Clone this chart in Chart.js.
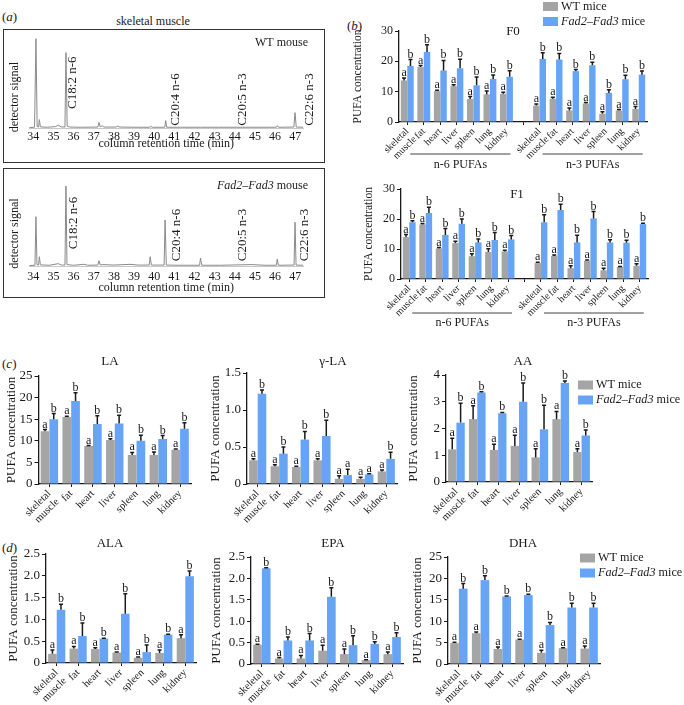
<!DOCTYPE html>
<html>
<head>
<meta charset="utf-8">
<script src="https://cdn.jsdelivr.net/npm/chart.js@4.4.1/dist/chart.umd.min.js"></script>
<style>
  body { margin: 0; background: #fff; }
  #page { position: relative; width: 684px; height: 705px; overflow: hidden;
          font-family: 'Liberation Serif', 'Times New Roman', serif; color: #1a1a1a; }
  #page canvas { position: absolute; }
  .lbl { position: absolute; font-size: 13px; line-height: 1; white-space: nowrap; transform: translateY(-50%); }
  .box { position: absolute; border: 1.5px solid #333; box-sizing: border-box; }
</style>
</head>
<body>
<div id="page">
  <div class="lbl" style="left:2px;top:16px">(<i>a</i>)</div>
  <div class="lbl" style="left:153px;top:21px;transform:translate(-50%,-50%);font-size:12px">skeletal muscle</div>
  <div class="box" style="left:3px;top:29px;width:322px;height:134px"></div>
  <div class="box" style="left:3px;top:168px;width:322px;height:130px"></div>
  <div class="lbl" style="left:347px;top:25px">(<i>b</i>)</div>
  <div class="lbl" style="left:2px;top:363px">(<i>c</i>)</div>
  <div class="lbl" style="left:2px;top:547px">(<i>d</i>)</div>
</div>
<script>
// ---- data ----
const tissues = ['skeletal muscle', 'fat', 'heart', 'liver', 'spleen', 'lung', 'kidney'];
const seriesNames = ['WT mice', 'Fad2–Fad3 mice'];
const groupNames = ['n-6 PUFAs', 'n-3 PUFAs'];

// (a) chromatograms, retention time (min) vs detector signal
const retentionTicks = [34, 35, 36, 37, 38, 39, 40, 41, 42, 43, 44, 45, 46, 47];
const wtTime = [33.8, 34.06, 34.13, 34.19, 34.26, 34.3, 34.35, 34.7, 35.1, 35.24, 35.38, 35.57, 35.62, 35.68,
  35.8, 36.4, 37.2, 37.26, 37.32, 37.42, 37.5, 38.1, 38.17, 38.3, 39.0, 39.78, 39.83, 39.9, 40.52, 40.57,
  40.62, 41.3, 42.3, 43.2, 44.1, 45.0, 46.06, 46.11, 46.16, 46.93, 46.99, 47.05, 47.4];
const wtSignal = [0.5, 0.8, 96, 1.5, 1.0, 9, 1.2, 0.8, 1.5, 3, 1.2, 1.0, 81, 2,
  1.0, 0.8, 1.0, 6, 1.2, 2.5, 1.0, 1.0, 1.8, 1.0, 0.8, 0.8, 1.8, 0.8, 0.8, 8,
  0.8, 0.8, 0.8, 0.8, 0.8, 0.8, 0.8, 2.5, 0.8, 1.0, 16.5, 1.0, 0.8];
const tgTime = [33.8, 34.08, 34.13, 34.18, 34.26, 34.3, 34.35, 34.8, 35.24, 35.4, 35.57, 35.62, 35.67, 36.0,
  36.5, 36.7, 37.2, 37.26, 37.32, 37.45, 38.0, 38.8, 39.2, 39.75, 39.8, 39.86, 40.49, 40.54, 40.6, 41.2,
  42.25, 42.3, 42.36, 43.3, 44.85, 45.5, 46.06, 46.11, 46.16, 46.94, 46.99, 47.04, 47.4];
const tgSignal = [0.5, 0.8, 53, 1.5, 1.0, 10, 1.2, 0.8, 2.5, 1.0, 1.0, 86, 1.5, 0.8,
  1.8, 0.8, 1.0, 5.7, 1.2, 1.5, 1.0, 1.8, 1.0, 1.0, 10, 1.0, 1.0, 49.5, 1.0, 0.8,
  0.8, 8.6, 0.8, 0.8, 1.5, 0.8, 0.8, 7.5, 0.8, 1.0, 47, 1.0, 0.8];
const peakNames = ['C18:2 n-6', 'C20:4 n-6', 'C20:5 n-3', 'C22:6 n-3'];

// (b) total PUFAs, F0 and F1
const fTicks = ['0', '10', '20', '30'];
const f0N6Wt = [13.7, 18.1, 10.2, 11.8, 7.6, 9.1, 9.3];
const f0N6WtErr = [0.8, 0.5, 0.3, 0.5, 0.8, 1.1, 0.5];
const f0N6Tg = [18.5, 23.1, 17.0, 17.7, 12.1, 14.2, 14.9];
const f0N6TgErr = [2.1, 2.4, 3.3, 3.0, 2.7, 1.3, 2.0];
const f0N3Wt = [5.4, 7.7, 3.8, 6.1, 2.7, 3.8, 4.3];
const f0N3WtErr = [0.5, 0.5, 0.8, 0.3, 0.7, 0.3, 0.8];
const f0N3Tg = [20.8, 20.6, 16.8, 18.7, 9.6, 14.1, 15.6];
const f0N3TgErr = [2.0, 2.0, 0.5, 1.0, 1.0, 1.3, 1.2];
const f1N6Wt = [14.0, 18.2, 10.2, 12.0, 7.6, 9.0, 9.2];
const f1N6WtErr = [0.8, 0.3, 0.3, 0.6, 0.8, 1.1, 0.4];
const f1N6Tg = [18.9, 22.0, 14.7, 18.4, 12.2, 13.0, 13.2];
const f1N6TgErr = [0.5, 1.9, 2.1, 1.6, 1.1, 2.5, 1.3];
const f1N3Wt = [5.3, 7.7, 3.6, 6.1, 2.9, 4.0, 4.4];
const f1N3WtErr = [0.3, 0.3, 0.8, 0.2, 0.7, 0.2, 0.7];
const f1N3Tg = [18.9, 23.0, 12.2, 20.2, 12.2, 12.1, 18.3];
const f1N3TgErr = [2.5, 1.9, 2.4, 2.3, 0.9, 0.8, 0.3];

// (c) n-6 fatty acids
const laTicks = ['0', '5', '10', '15', '20', '25'];
const laWt = [12.2, 15.5, 8.8, 10.2, 6.7, 6.7, 7.9];
const laWtErr = [0.4, 0.2, 0.1, 0.3, 0.6, 0.7, 0.2];
const laTg = [15.0, 19.2, 13.9, 14.0, 10.0, 10.4, 12.8];
const laTgErr = [1.3, 1.9, 1.9, 1.9, 1.3, 0.8, 1.4];
const glaTicks = ['0', '0.5', '1.0', '1.5'];
const glaWt = [0.32, 0.24, 0.23, 0.32, 0.07, 0.07, 0.17];
const glaWtErr = [0.02, 0.02, 0.01, 0.02, 0.04, 0.02, 0.02];
const glaTg = [1.22, 0.41, 0.60, 0.65, 0.12, 0.13, 0.34];
const glaTgErr = [0.05, 0.09, 0.11, 0.21, 0.08, 0.01, 0.09];
const aaTicks = ['0', '1', '2', '3', '4'];
const aaWt = [1.22, 2.35, 1.2, 1.35, 0.92, 2.35, 1.12];
const aaWtErr = [0.42, 0.5, 0.21, 0.4, 0.32, 0.29, 0.12];
const aaTg = [2.22, 3.35, 2.57, 3.0, 1.97, 3.7, 1.74];
const aaTgErr = [0.72, 0.02, 0.03, 0.7, 0.9, 0.08, 0.2];

// (d) n-3 fatty acids
const alaTicks = ['0', '0.5', '1.0', '1.5', '2.0', '2.5'];
const alaWt = [0.21, 0.33, 0.32, 0.24, 0.12, 0.23, 0.57];
const alaWtErr = [0.09, 0.05, 0.03, 0.01, 0.02, 0.07, 0.08];
const alaTg = [1.22, 0.62, 0.56, 1.13, 0.25, 0.65, 1.99];
const alaTgErr = [0.13, 0.30, 0.01, 0.46, 0.16, 0.01, 0.12];
const epaTicks = ['0', '0.5', '1.0', '1.5', '2.0', '2.5'];
const epaWt = [0.45, 0.13, 0.13, 0.31, 0.23, 0.09, 0.23];
const epaWtErr = [0.01, 0.02, 0.07, 0.13, 0.12, 0.01, 0.05];
const epaTg = [2.24, 0.55, 0.55, 1.57, 0.44, 0.47, 0.63];
const epaTgErr = [0.01, 0.08, 0.16, 0.21, 0.22, 0.05, 0.10];
const dhaTicks = ['0', '5', '10', '15', '20', '25'];
const dhaWt = [4.9, 7.2, 3.5, 5.7, 2.6, 3.7, 3.6];
const dhaWtErr = [0.2, 0.3, 0.5, 0.1, 0.6, 0.1, 0.6];
const dhaTg = [17.6, 19.6, 15.8, 16.1, 9.1, 13.2, 13.2];
const dhaTgErr = [1.2, 1.0, 0.1, 0.2, 0.6, 1.0, 1.0];

const sigA = ['a', 'a', 'a', 'a', 'a', 'a', 'a'];
const sigB = ['b', 'b', 'b', 'b', 'b', 'b', 'b'];
const glaTgSig = ['b', 'b', 'b', 'b', 'a', 'a', 'b'];

// ---- drawing ----
const SERIF = "'Liberation Serif', 'Times New Roman', serif";
const GRAY = '#a5a5a5', BLUE = '#68a4f6', INK = '#1a1a1a';
const extras = {};

function font(size, italic) { return (italic ? 'italic ' : '') + size + 'px ' + SERIF; }

function splitItalic(label) {
  return label.split(/(Fad2–Fad3)/).filter(s => s).map(s => ({ t: s, italic: s === 'Fad2–Fad3' }));
}

function richText(ctx, parts, x, y, align, size) {
  let w = 0;
  parts.forEach(p => { ctx.font = font(size, p.italic); w += ctx.measureText(p.t).width; });
  let cx = align === 'right' ? x - w : align === 'center' ? x - w / 2 : x;
  ctx.textAlign = 'left';
  parts.forEach(p => {
    ctx.font = font(size, p.italic);
    ctx.fillText(p.t, cx, y);
    cx += ctx.measureText(p.t).width;
  });
}

function vText(ctx, text, x, y, size) {
  ctx.save();
  ctx.translate(x, y);
  ctx.rotate(-Math.PI / 2);
  ctx.font = font(size);
  ctx.textAlign = 'center';
  ctx.textBaseline = 'middle';
  ctx.fillText(text, 0, 0);
  ctx.restore();
}

const annotate = {
  id: 'annotate',
  afterDraw(chart) {
    const ex = extras[chart.canvas.id];
    if (!ex) return;
    const ctx = chart.ctx, xs = chart.scales.x, ys = chart.scales.y;
    ctx.save();
    ctx.fillStyle = INK;
    ctx.strokeStyle = INK;

    if (ex.errors) {
      chart.data.datasets.forEach((ds, di) => {
        chart.getDatasetMeta(di).data.forEach((bar, i) => {
          const v = ds.data[i];
          if (v == null) return;
          const yTop = ys.getPixelForValue(v + ex.errors[di][i]);
          ctx.lineWidth = 1.5;
          ctx.beginPath();
          ctx.moveTo(bar.x, bar.y);
          ctx.lineTo(bar.x, yTop);
          ctx.moveTo(bar.x - 2, yTop);
          ctx.lineTo(bar.x + 2, yTop);
          ctx.stroke();
          ctx.font = font(12);
          ctx.textAlign = 'center';
          ctx.textBaseline = 'alphabetic';
          ctx.fillText(ex.letters[di][i], bar.x, yTop - 2);
        });
      });
    }

    ctx.textBaseline = 'middle';
    if (ex.title) {
      ctx.font = font(13);
      ctx.textAlign = 'center';
      ctx.fillText(ex.title.text, ex.title.x, ex.title.y);
    }

    if (ex.groups) {
      ex.groups.forEach(g => {
        const x0 = xs.getPixelForValue(g.from) + 3, x1 = xs.getPixelForValue(g.to) + 4;
        ctx.lineWidth = 1.2;
        ctx.strokeStyle = '#444';
        ctx.beginPath();
        ctx.moveTo(x0, ex.lineY);
        ctx.lineTo(x1, ex.lineY);
        ctx.stroke();
        ctx.font = font(12);
        ctx.textAlign = 'center';
        ctx.fillText(g.text, (x0 + x1) / 2, ex.textY);
      });
    }

    if (ex.legend) {
      const L = ex.legend;
      chart.data.datasets.forEach((ds, di) => {
        const yc = L.y + di * L.gap;
        ctx.fillStyle = ds.backgroundColor;
        ctx.fillRect(L.x, yc - 4.5, 15, 9);
        ctx.fillStyle = INK;
        richText(ctx, splitItalic(ds.label), L.x + 18, yc, 'left', 12.2);
      });
    }

    if (ex.tag) {
      richText(ctx, ex.tag.parts, ex.tag.x, ex.tag.y, 'right', 12);
    }
    if (ex.yTitle) {
      vText(ctx, ex.yTitle.text, ex.yTitle.x, ex.yTitle.y, 12);
    }
    if (ex.peaks) {
      ex.peaks.forEach(p => vText(ctx, p.text, xs.getPixelForValue(p.t), p.y, 13));
    }
    ctx.restore();
  }
};

function place(id, box) {
  const c = document.createElement('canvas');
  c.id = id;
  c.width = box[2];
  c.height = box[3];
  c.style.left = box[0] + 'px';
  c.style.top = box[1] + 'px';
  document.getElementById('page').appendChild(c);
  return c;
}

// box = [left, top, width, height] of canvas, plot = [left, right, top, bottom] of chart area (page px)
function barChart(id, box, plot, o) {
  const canvas = place(id, box);
  extras[id] = o.extras;
  const yW = plot[0] - box[0];
  const xH = box[1] + box[3] - plot[3];
  return new Chart(canvas, {
    type: 'bar',
    data: {
      labels: o.labels,
      datasets: [
        { label: seriesNames[0], data: o.wt, backgroundColor: GRAY, categoryPercentage: o.cat, barPercentage: 1 },
        { label: seriesNames[1], data: o.tg, backgroundColor: BLUE, categoryPercentage: o.cat, barPercentage: 1 }
      ]
    },
    options: {
      responsive: false,
      animation: false,
      layout: { padding: { top: plot[2] - box[1], right: box[0] + box[2] - plot[1], left: 0, bottom: 0 } },
      plugins: { legend: { display: false }, tooltip: { enabled: false } },
      scales: {
        x: {
          afterFit: s => { s.height = xH; },
          ticks: { autoSkip: false, maxRotation: 45, minRotation: 45, padding: 1, color: INK,
                   font: { family: SERIF, size: o.catSize, lineHeight: 1.1 } },
          grid: { drawOnChartArea: false, drawTicks: true, tickLength: 3, color: INK, offset: false },
          border: { color: INK, width: 1.3 }
        },
        y: {
          min: 0,
          max: parseFloat(o.ticks[o.ticks.length - 1]),
          afterFit: s => { s.width = yW; },
          afterBuildTicks: s => { s.ticks = o.ticks.map(t => ({ value: parseFloat(t) })); },
          ticks: { callback: (v, i) => o.ticks[i], padding: 2, color: INK, font: { family: SERIF, size: o.tickSize } },
          grid: { drawOnChartArea: false, drawTicks: true, tickLength: 4, color: INK },
          border: { color: INK, width: 1.3 },
          title: { display: true, text: 'PUFA concentration', color: INK,
                   font: { family: SERIF, size: o.titleSize }, padding: { top: o.titlePad, bottom: 0 } }
        }
      }
    },
    plugins: [annotate]
  });
}

function chromChart(id, box, plot, times, signal, o) {
  const canvas = place(id, box);
  extras[id] = o.extras;
  const yW = plot[0] - box[0];
  const xH = box[1] + box[3] - plot[3];
  return new Chart(canvas, {
    type: 'line',
    data: {
      datasets: [{
        data: times.map((t, i) => ({ x: t, y: signal[i] })),
        borderColor: '#8a8a8a', borderWidth: 1, pointRadius: 0, tension: 0
      }]
    },
    options: {
      responsive: false,
      animation: false,
      layout: { padding: { top: plot[2] - box[1], right: box[0] + box[2] - plot[1], left: 0, bottom: 0 } },
      plugins: { legend: { display: false }, tooltip: { enabled: false } },
      scales: {
        x: {
          type: 'linear', min: 33.8, max: 47.4,
          afterFit: s => { s.height = xH; },
          afterBuildTicks: s => { s.ticks = retentionTicks.map(v => ({ value: v })); },
          ticks: { padding: o.tickPad, color: INK, font: { family: SERIF, size: 12, lineHeight: 1 } },
          grid: { display: false, drawTicks: false },
          border: { display: true, color: '#c8c8c8', width: 1 },
          title: { display: true, text: 'column retention time (min)', color: INK,
                   font: { family: SERIF, size: 12 }, padding: { top: 0, bottom: o.titlePad } }
        },
        y: {
          min: 0, max: 100,
          afterFit: s => { s.width = yW; },
          ticks: { display: false }, grid: { display: false, drawTicks: false }, border: { display: false }
        }
      }
    },
    plugins: [annotate]
  });
}

// (a)
chromChart('wtTrace', [4, 30, 320, 132], [29.3, 303.3, 35, 128], wtTime, wtSignal, {
  tickPad: 2.7, titlePad: 10.8,
  extras: {
    tag: { parts: [{ t: 'WT mouse' }], x: 304, y: 13 },
    yTitle: { text: 'detector signal', x: 11, y: 67 },
    peaks: [{ text: peakNames[0], t: 35.95, y: 52.7 }, { text: peakNames[1], t: 41.07, y: 69.5 },
            { text: peakNames[2], t: 44.4, y: 69.5 }, { text: peakNames[3], t: 47.7, y: 69.5 }]
  }
});
chromChart('tgTrace', [4, 169, 320, 128], [29.3, 303.3, 173, 266], tgTime, tgSignal, {
  tickPad: 4.7, titlePad: 1.5,
  extras: {
    tag: { parts: [{ t: 'Fad2–Fad3', italic: true }, { t: ' mouse' }], x: 304, y: 17 },
    yTitle: { text: 'detector signal', x: 11, y: 64.5 },
    peaks: [{ text: peakNames[0], t: 35.98, y: 54 }, { text: peakNames[1], t: 41.12, y: 66 },
            { text: peakNames[2], t: 44.4, y: 66 }, { text: peakNames[3], t: 47.47, y: 66 }]
  }
});

// (b)
const wideLabels = [...tissues, '', ...tissues].map(t => t.split(' '));
const wideA = [...sigA, '', ...sigA];
const wideB = [...sigB, '', ...sigB];
const fGroups = [{ from: 0, to: 6, text: groupNames[0] }, { from: 8, to: 14, text: groupNames[1] }];

barChart('f0', [345, 0, 339, 172], [399, 647, 31, 122], {
  labels: wideLabels, cat: 0.78, catSize: 10, tickSize: 12, titleSize: 11.5, titlePad: 5.6, ticks: fTicks,
  wt: [...f0N6Wt, null, ...f0N3Wt], tg: [...f0N6Tg, null, ...f0N3Tg],
  extras: {
    errors: [[...f0N6WtErr, 0, ...f0N3WtErr], [...f0N6TgErr, 0, ...f0N3TgErr]],
    letters: [wideA, wideB],
    title: { text: 'F0', x: 168, y: 32 },
    groups: fGroups, lineY: 154, textY: 165,
    legend: { x: 198, y: 6.5, gap: 15 }
  }
});
barChart('f1', [345, 172, 339, 160], [401, 648, 189, 279], {
  labels: wideLabels, cat: 0.78, catSize: 10, tickSize: 12, titleSize: 11.5, titlePad: 17.1, ticks: fTicks,
  wt: [...f1N6Wt, null, ...f1N3Wt], tg: [...f1N6Tg, null, ...f1N3Tg],
  extras: {
    errors: [[...f1N6WtErr, 0, ...f1N3WtErr], [...f1N6TgErr, 0, ...f1N3TgErr]],
    letters: [wideA, wideB],
    title: { text: 'F1', x: 172, y: 23 },
    groups: fGroups, lineY: 141, textY: 151
  }
});

// (c) and (d)
const shortLabels = tissues.map(t => t.split(' '));
function panel(id, box, plot, titlePad, ticks, wt, wtErr, tg, tgErr, tgSig, title, legend) {
  barChart(id, box, plot, {
    labels: shortLabels, cat: 0.8, catSize: 10.5, tickSize: 13, titleSize: 13, titlePad: titlePad, ticks: ticks,
    wt: wt, tg: tg,
    extras: { errors: [wtErr, tgErr], letters: [sigA, tgSig], title: title, legend: legend }
  });
}
panel('la', [0, 340, 200, 190], [38.5, 191, 376, 484], 3.9, laTicks, laWt, laWtErr, laTg, laTgErr, sigB,
      { text: 'LA', x: 110, y: 22 });
panel('gla', [200, 340, 200, 190], [247, 397, 373, 484], 8.2, glaTicks, glaWt, glaWtErr, glaTg, glaTgErr, glaTgSig,
      { text: 'γ-LA', x: 133, y: 22 });
panel('aa', [400, 340, 284, 190], [446, 592, 375, 482], 6.2, aaTicks, aaWt, aaWtErr, aaTg, aaTgErr, sigB,
      { text: 'AA', x: 123, y: 22 }, { x: 178, y: 45, gap: 15 });
panel('ala', [0, 522, 200, 183], [46, 196, 554, 663], 6.2, alaTicks, alaWt, alaWtErr, alaTg, alaTgErr, sigB,
      { text: 'ALA', x: 110, y: 22 });
panel('epa', [200, 522, 210, 183], [251, 403, 557, 664], 9.2, epaTicks, epaWt, epaWtErr, epaTg, epaTgErr, sigB,
      { text: 'EPA', x: 133, y: 22 });
panel('dha', [400, 522, 284, 183], [448, 600, 557, 664], 9.7, dhaTicks, dhaWt, dhaWtErr, dhaTg, dhaTgErr, sigB,
      { text: 'DHA', x: 123, y: 22 }, { x: 180, y: 36, gap: 15 });
</script>
</body>
</html>
